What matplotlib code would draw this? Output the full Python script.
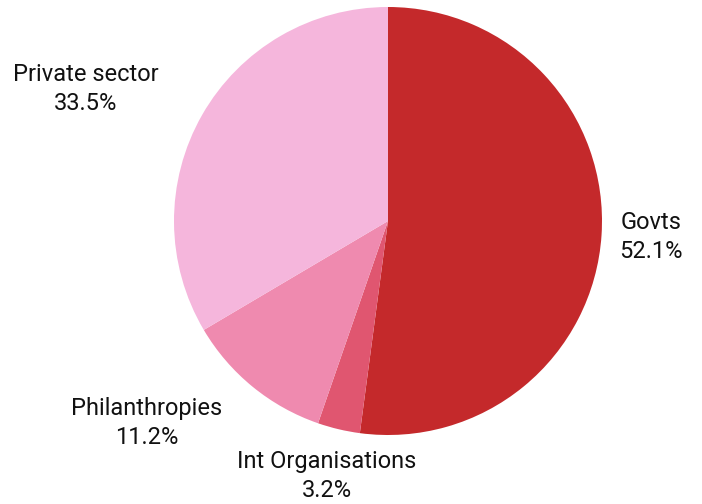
import matplotlib

matplotlib.use('Agg')
import matplotlib.pyplot as plt

categories = ['Govts', 'Int Organisations', 'Philanthropies', 'Private sector']
shares = [52.1, 3.2, 11.2, 33.5]
colors = ['#c4292b', '#e05670', '#ef8aaf', '#f5b6dc']

# label anchor points in pixel coords (x, y from top)
label_pos = [(651, 237), (327, 476), (147, 423), (86, 89)]

fig = plt.figure(figsize=(7.02, 5.04), dpi=100)
ax = fig.add_axes([0, 0, 1, 1])

ax.pie(shares, colors=colors, startangle=90, counterclock=False,
       center=(388, 504 - 221), radius=214,
       wedgeprops={'linewidth': 0})

# pie() resets the limits, so set them afterwards
ax.set_xlim(0, 702)
ax.set_ylim(0, 504)
ax.set_aspect('equal')
ax.axis('off')

for name, val, (x, y) in zip(categories, shares, label_pos):
    ax.text(x, 504 - y, "{}\n{}%".format(name, val), ha='center', va='center',
            fontsize=17, family=['Roboto', 'DejaVu Sans'], fontweight='normal',
            color='#111111', linespacing=1.37)

plt.savefig('out.png', dpi=100)
